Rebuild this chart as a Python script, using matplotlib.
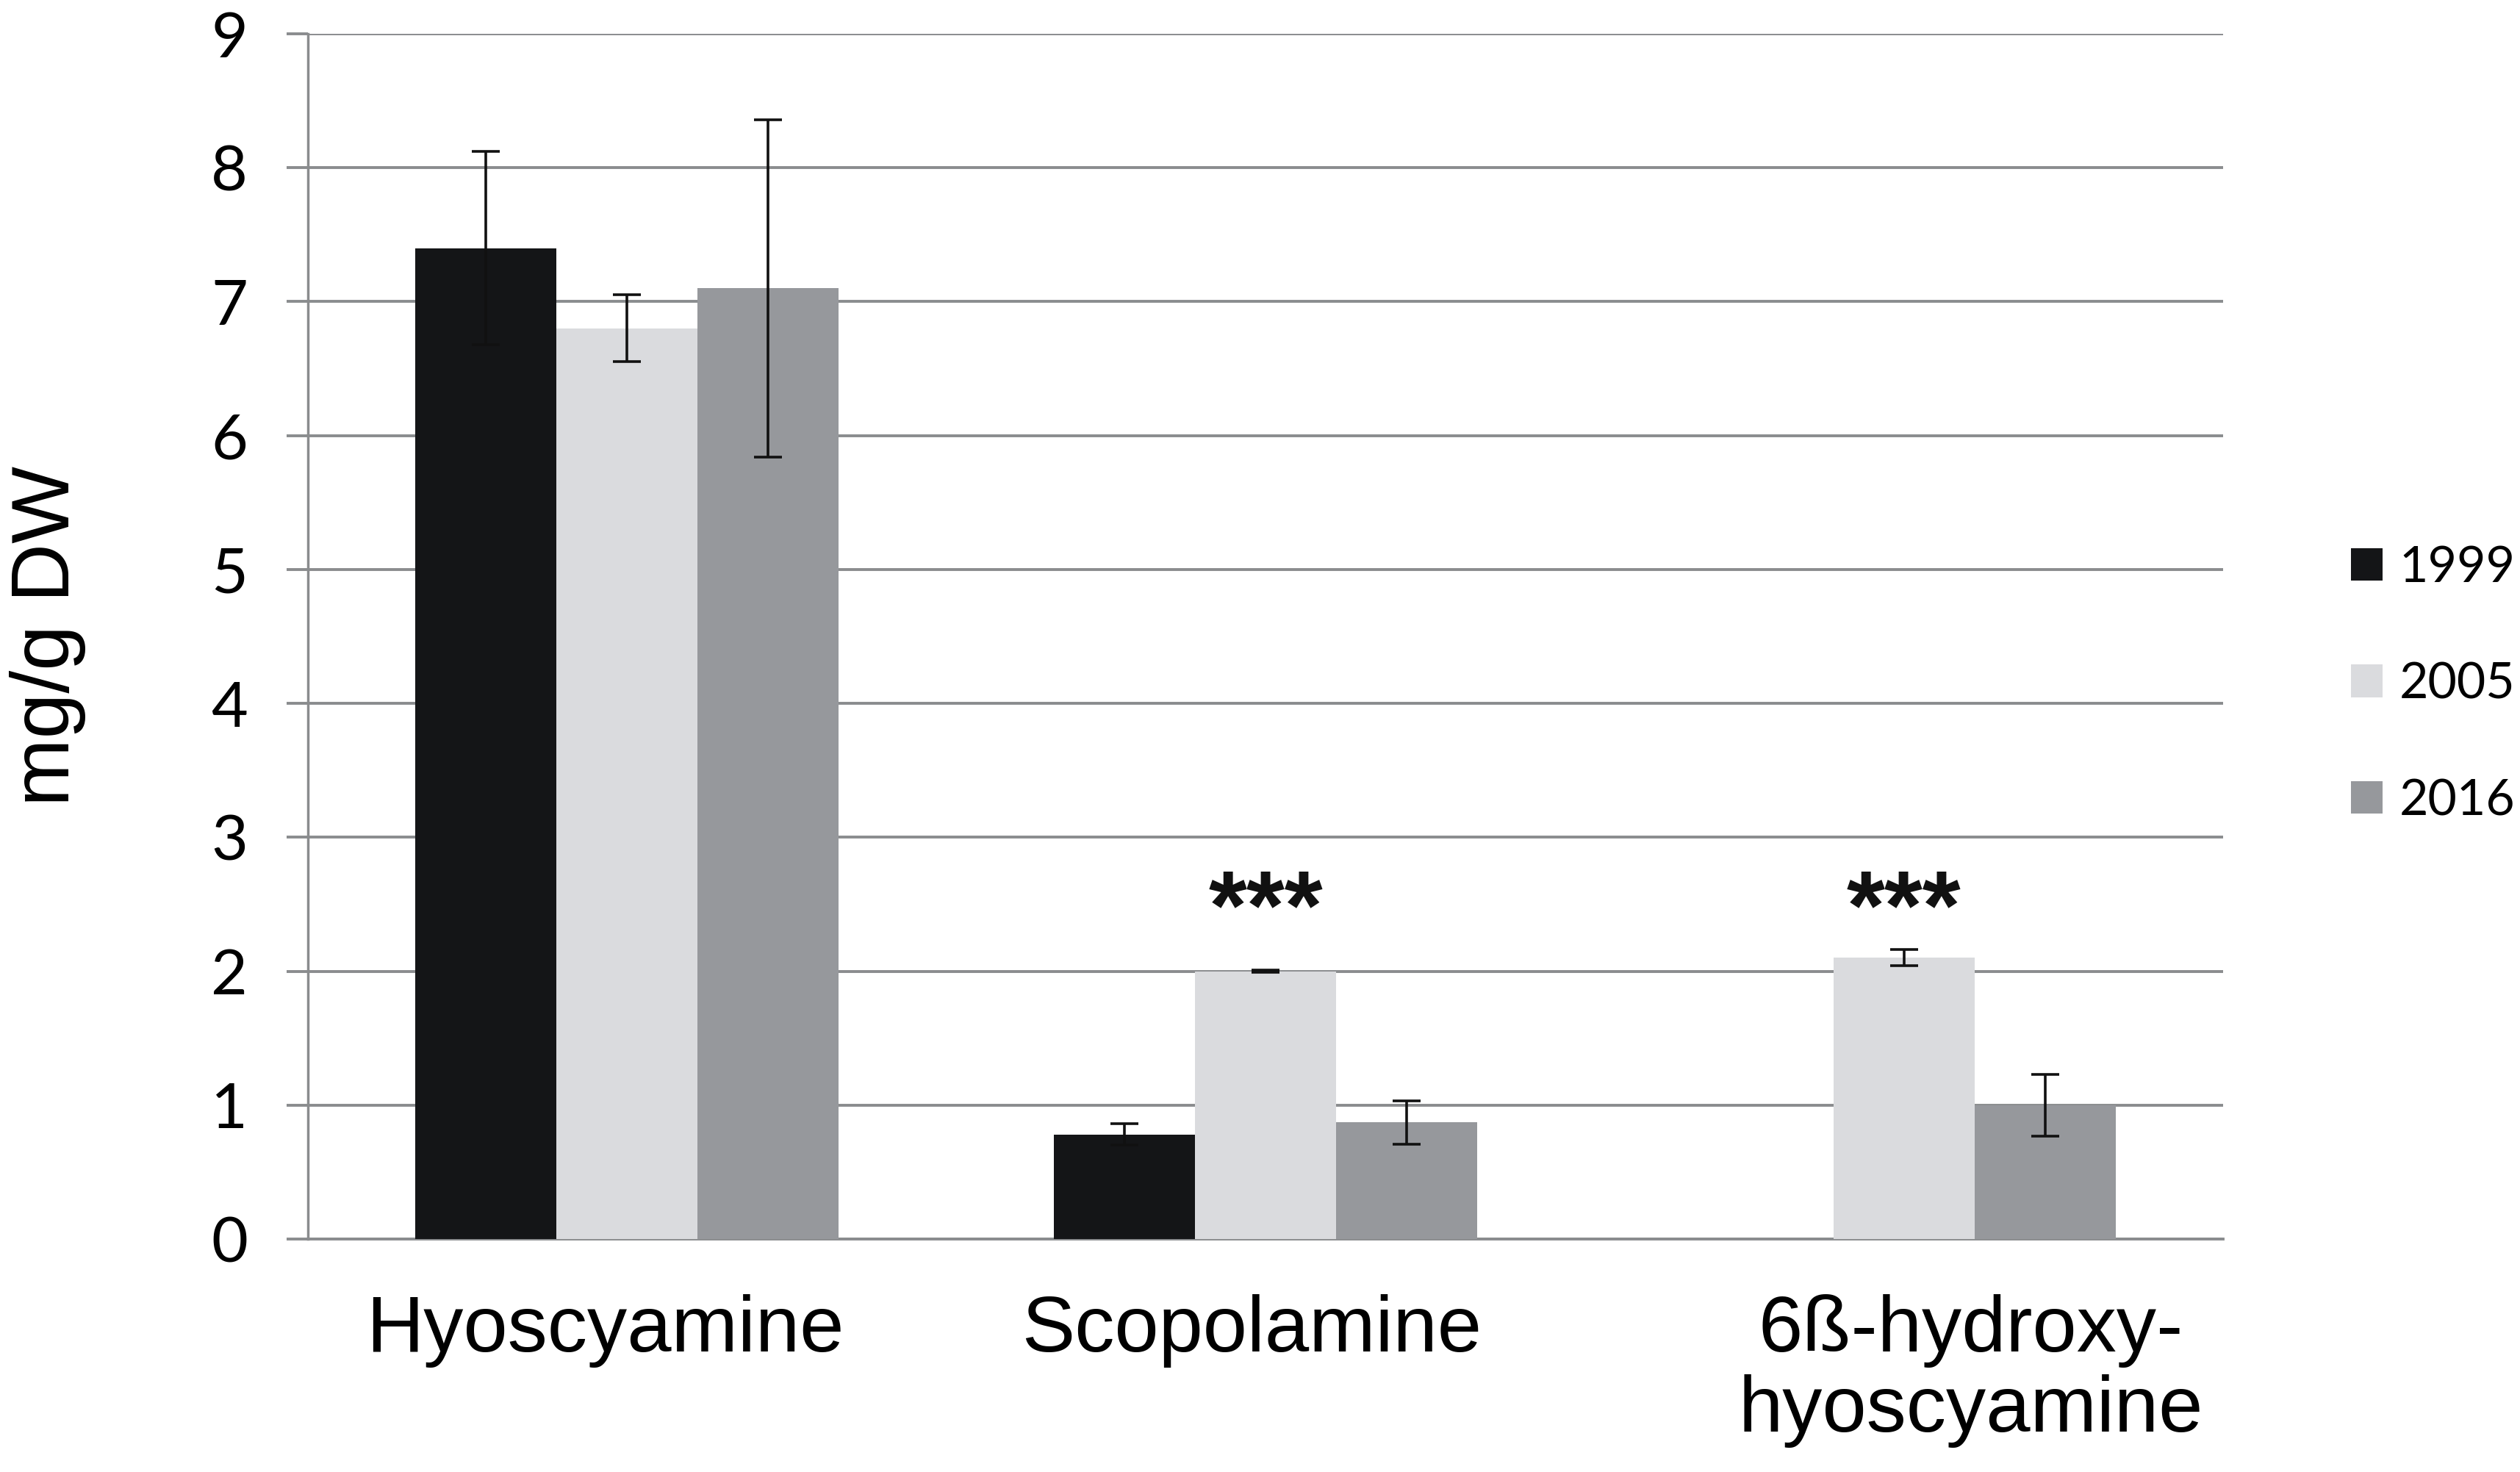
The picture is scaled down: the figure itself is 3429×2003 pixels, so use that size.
import numpy as np
import matplotlib
matplotlib.use('Agg')
import matplotlib.pyplot as plt

# data
compounds = ['Hyoscyamine', 'Scopolamine', '6ß-hydroxy-\nhyoscyamine']
years = ['1999', '2005', '2016']
val_1999 = [7.40, 0.78, np.nan]
val_2005 = [6.80, 2.00, 2.10]
val_2016 = [7.10, 0.87, 1.00]
err_1999 = [0.72, 0.08, np.nan]
err_2005 = [0.25, 0.01, 0.06]
err_2016 = [1.26, 0.16, 0.23]
stars = ['', '***', '***']
star_y = [np.nan, 2.43, 2.43]

colors = ['#141517', '#dadbde', '#96989c']
grid_col = '#8a8c8e'

fig = plt.figure(figsize=(34.29, 20.03), dpi=100)
ax = fig.add_axes([0.1222, 0.1583, 0.7600, 0.8187])

x = np.arange(len(compounds))
w = 0.221
vals = [val_1999, val_2005, val_2016]
errs = [err_1999, err_2005, err_2016]
handles = []
for i in range(3):
    xs = x + (i - 1) * w
    b = ax.bar(xs, np.nan_to_num(vals[i]), width=w, color=colors[i], zorder=3,
               label=years[i], linewidth=0)
    handles.append(b)
    ax.errorbar(xs, vals[i], yerr=errs[i], fmt='none', ecolor='#111111',
                elinewidth=2.6, capsize=14, capthick=2.6, zorder=4)

for xi, s, sy in zip(x, stars, star_y):
    if s:
        ax.text(xi, sy, s, ha='center', va='center', fontsize=96,
                family='Liberation Sans', fontweight='bold',
                color='#111111', zorder=5)

ax.set_xlim(-0.5, 2.5)
ax.set_ylim(0, 9)
ax.set_yticks(range(10))
ax.yaxis.grid(True, color=grid_col, linewidth=2.8, zorder=0)
ax.set_axisbelow(True)

for sp in ['top', 'right']:
    ax.spines[sp].set_visible(False)
ax.spines['left'].set_color(grid_col)
ax.spines['left'].set_linewidth(2.5)
ax.spines['bottom'].set_color(grid_col)
ax.spines['bottom'].set_linewidth(2.8)

ax.tick_params(axis='y', length=21, width=2.8, color=grid_col, pad=38,
               labelsize=62)
for lab in ax.get_yticklabels():
    lab.set_family('Lato')

# label positions slightly off-centre, as in the original
label_pos = [-0.035, 0.978, 2.105]
ax.set_xticks(label_pos)
ax.set_xticklabels(compounds, fontsize=78, family='Liberation Sans',
                   linespacing=1.12)
ax.tick_params(axis='x', length=0, pad=54)

ax.set_ylabel('mg/g DW', fontsize=80, family='Liberation Sans')
ax.yaxis.set_label_coords(-0.116, 0.5)

fig.legend(handles=handles, labels=years, loc='center left',
           bbox_to_anchor=(0.933, 0.535), frameon=False,
           prop={'family': 'Lato', 'size': 49}, handlelength=0.63,
           handleheight=0.63, handletextpad=0.33, labelspacing=1.42,
           borderpad=0, borderaxespad=0)

fig.savefig('out.png', dpi=100)
